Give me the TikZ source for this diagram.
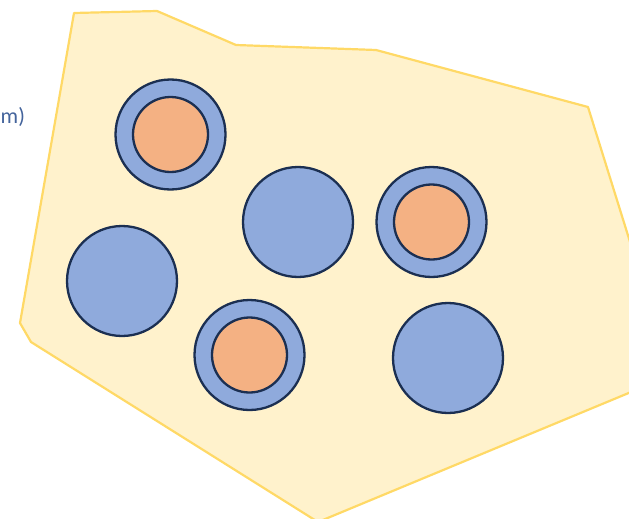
\documentclass[tikz,border=0pt]{standalone}
\usepackage{fontspec}
\setmainfont{Carlito}
\definecolor{areafill}{HTML}{FFF2CC}
\definecolor{arealine}{HTML}{FFD966}
\definecolor{cellblue}{HTML}{8FAADC}
\definecolor{cellline}{HTML}{1B2F52}
\definecolor{coreorange}{HTML}{F4B183}
\definecolor{labelblue}{HTML}{44649C}
\begin{document}
\begin{tikzpicture}[x=1pt,y=-1pt,
  cell/.style={circle,draw=cellline,fill=cellblue,line width=2.3pt,minimum size=110pt,inner sep=0pt},
  core/.style={circle,draw=cellline,fill=coreorange,line width=2.3pt,minimum size=75pt,inner sep=0pt}]
\useasboundingbox (0,0) rectangle (629,519);
\begin{scope}
\clip (0,0) rectangle (629,519);
\draw[fill=areafill,draw=arealine,line width=2.2pt,line join=round]
  (74,13) -- (157,11) -- (236,45) -- (376,50) -- (588,107) -- (645,290)
  -- (660,380) -- (318,522) -- (31,342) -- (20,323) -- cycle;
\end{scope}
\node[anchor=west,text=labelblue,font=\fontsize{22}{26}\selectfont,inner sep=0pt] (lbl) at (0.5,117) {m)};
\node[cell] (c1) at (170.5,134.5) {};
\node[core] (k1) at (c1) {};
\node[cell] (c2) at (298,222) {};
\node[cell] (c3) at (431.5,222) {};
\node[core] (k3) at (c3) {};
\node[cell] (c4) at (122,281) {};
\node[cell] (c5) at (249.5,355) {};
\node[core] (k5) at (c5) {};
\node[cell] (c6) at (448,358) {};
\end{tikzpicture}
\end{document}
